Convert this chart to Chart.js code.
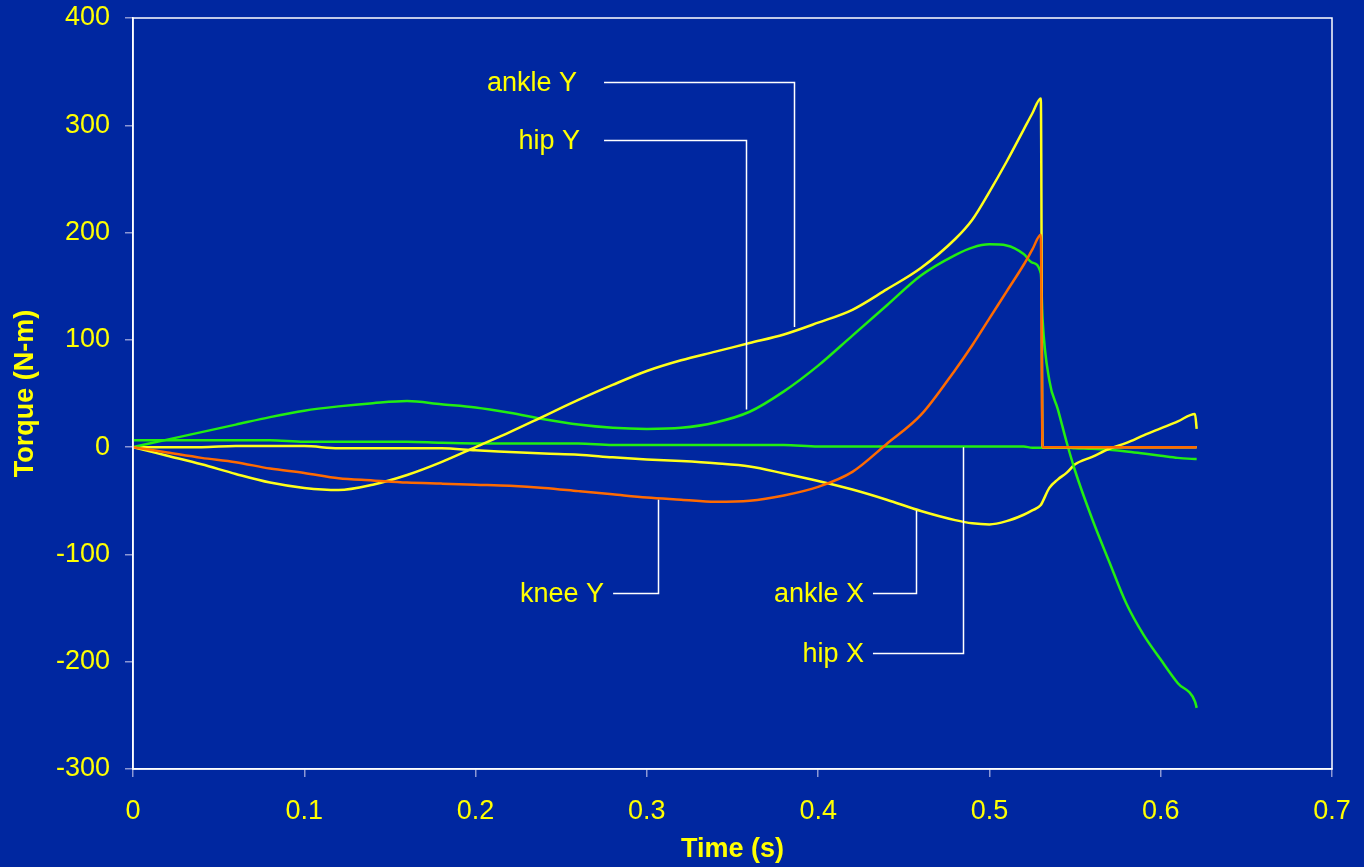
<!DOCTYPE html>
<html>
<head>
<meta charset="utf-8">
<script src="https://cdn.jsdelivr.net/npm/chart.js@4.4.1/dist/chart.umd.min.js"></script>
<style>
    html, body { margin: 0; padding: 0; background: #0027A0; }
    canvas { display: block; }
</style>
</head>
<body>
<canvas id="torqueChart" width="1364" height="867"></canvas>
<script>
// time samples (s), shared by every series
const times = [0, 0.02, 0.04, 0.06, 0.08, 0.1, 0.12, 0.14, 0.16, 0.18, 0.2, 0.22, 0.24, 0.26, 0.28, 0.3, 0.32, 0.34, 0.36, 0.38, 0.4, 0.42, 0.44, 0.46, 0.48,
    0.49, 0.5, 0.51, 0.52,
    0.525, 0.53, 0.531, 0.535, 0.54, 0.545, 0.55,
    0.56, 0.57, 0.58, 0.59, 0.6, 0.61, 0.62, 0.621];

// torques (N-m)
const kneeY = [0, -5, -10, -14, -20, -24, -29, -31, -33, -34, -35, -36, -38, -41, -44, -47, -49, -51, -50, -45, -37, -23, 3, 30, 72,
    95, 120, 145, 170,
    184, 198, 0, 0, 0, 0, 0,
    0, 0, 0, 0, 0, 0, 0, 0];
const ankleY = [0, -8, -16, -25, -33, -38, -40, -35, -26, -14, 0, 14, 29, 44, 58, 71, 81, 89, 97, 105, 116, 128, 147, 167, 194,
    212, 238, 266, 296,
    311, 325, 0, 0, 0, 0, 0,
    0, 0, 0, 0, 0, 0, 0, 0];
const hipY = [0, 7, 14, 21, 28, 34, 38, 41, 43, 40, 37, 32, 26, 21, 18, 17, 18, 23, 33, 52, 76, 104, 132, 160, 179,
    186, 189, 188, 180,
    172, 162, 120, 62, 35, 5, -22,
    -67, -107, -146, -175, -198, -220, -237, -243];
const ankleX = [0, 0, 0, 1, 1, 1, -1, -1, -1, -1, -3, -4.5, -6, -7, -9.5, -11.5, -13, -15, -18, -24.5, -31.5, -39.5, -49, -59.5, -68,
    -71, -72, -69, -63,
    -59, -54, -51, -38, -30, -24, -16,
    -9, -1.5, 4, 11, 17.5, 24, 31, 17];
const hipX = [6.5, 6.5, 6.5, 6.5, 6.5, 5, 5, 5, 5, 4, 3.5, 3.5, 3.5, 3.5, 2, 2, 2, 2, 2, 2, 0.5, 0.5, 0.5, 0.5, 0.5,
    0.5, 0.5, 0.5, 0.5,
    -0.5, -0.5, -0.5, -0.5, -0.5, -0.5, -1,
    -1.5, -2.5, -4, -6, -8, -10, -11, -11];

// callout labels: text right edge (t, torque), leader start t, elbow t, end torque
const calloutNames = ['ankle Y', 'hip Y', 'knee Y', 'ankle X', 'hip X'];
const calloutTextT = [0.2592, 0.2610, 0.2750, 0.4268, 0.4268];
const calloutTextV = [340, 286, -136, -136, -192];
const calloutStartT = [0.2750, 0.2750, 0.2803, 0.4320, 0.4320];
const calloutElbowT = [0.3859, 0.3579, 0.3065, 0.4571, 0.4846];
const calloutEndV = [112, 35, -49, -59, 0];

const xTicks = [0, 0.1, 0.2, 0.3, 0.4, 0.5, 0.6, 0.7];

const YELLOW = '#FFFF00';
const BG = '#0027A0';
const FONT = "'Liberation Sans', Arial, sans-serif";

function toPoints(values) {
    return times.map((t, i) => ({ x: t, y: values[i] }));
}

function series(label, values, color) {
    return {
        label: label,
        data: toPoints(values),
        borderColor: color,
        backgroundColor: color,
        borderWidth: 2.5,
        pointRadius: 0,
        fill: false,
        cubicInterpolationMode: 'monotone'
    };
}

// keep the plot box where the original has it
function noEdgePadding(scale) {
    scale.paddingTop = 0;
    scale.paddingBottom = 0;
    scale.paddingLeft = 0;
    scale.paddingRight = 0;
}

const backgroundPlugin = {
    id: 'background',
    beforeDraw(chart) {
        const c = chart.ctx;
        c.save();
        c.fillStyle = BG;
        c.fillRect(0, 0, chart.width, chart.height);
        c.restore();
    }
};

const calloutPlugin = {
    id: 'callouts',
    afterDraw(chart) {
        const c = chart.ctx;
        const xs = chart.scales.x;
        const ys = chart.scales.y;
        const a = chart.chartArea;

        c.save();
        // plot frame
        c.strokeStyle = '#ffffff';
        c.lineWidth = 1.5;
        c.strokeRect(a.left, a.top, a.right - a.left, a.bottom - a.top);

        c.font = '27px ' + FONT;
        c.textAlign = 'right';
        c.textBaseline = 'middle';
        for (let i = 0; i < calloutNames.length; i++) {
            const ty = ys.getPixelForValue(calloutTextV[i]);
            c.fillStyle = YELLOW;
            c.fillText(calloutNames[i], xs.getPixelForValue(calloutTextT[i]), ty + 1);

            const ex = Math.round(xs.getPixelForValue(calloutElbowT[i])) + 0.5;
            const ly = Math.round(ty) + 0.5;
            c.strokeStyle = '#ffffff';
            c.lineWidth = 1.5;
            c.beginPath();
            c.moveTo(xs.getPixelForValue(calloutStartT[i]), ly);
            c.lineTo(ex, ly);
            c.lineTo(ex, ys.getPixelForValue(calloutEndV[i]));
            c.stroke();
        }
        c.restore();
    }
};

const ctx = document.getElementById('torqueChart').getContext('2d');

new Chart(ctx, {
    type: 'line',
    data: {
        datasets: [
            series('knee Y', kneeY, '#FF6A00'),
            series('ankle Y', ankleY, '#FFFF1A'),
            series('hip Y', hipY, '#22EE11'),
            series('ankle X', ankleX, '#FFFF1A'),
            series('hip X', hipX, '#22EE11')
        ]
    },
    options: {
        responsive: false,
        animation: false,
        layout: { padding: { top: 18, right: 32, left: 0, bottom: 0 } },
        plugins: {
            legend: { display: false },
            tooltip: { enabled: false }
        },
        scales: {
            x: {
                type: 'linear',
                min: 0,
                max: 0.7,
                afterFit(scale) { scale.height = 98; noEdgePadding(scale); },
                afterBuildTicks(scale) { scale.ticks = xTicks.map(v => ({ value: v })); },
                ticks: {
                    color: YELLOW,
                    font: { family: FONT, size: 27 },
                    padding: 18,
                    maxRotation: 0,
                    callback: v => String(Math.round(v * 10) / 10)
                },
                grid: { drawOnChartArea: false, drawTicks: true, tickLength: 8, color: '#8c98d4', lineWidth: 1.5 },
                border: { display: true, color: '#ffffff', width: 1.5 },
                title: {
                    display: true,
                    text: 'Time (s)',
                    color: YELLOW,
                    font: { family: FONT, size: 27, weight: 'bold' },
                    padding: { top: 0, bottom: 1 }
                }
            },
            y: {
                type: 'linear',
                min: -300,
                max: 400,
                afterFit(scale) { scale.width = 133; noEdgePadding(scale); },
                ticks: {
                    stepSize: 100,
                    color: YELLOW,
                    font: { family: FONT, size: 27 },
                    padding: 15
                },
                grid: { drawOnChartArea: false, drawTicks: true, tickLength: 8, color: '#8c98d4', lineWidth: 1.5 },
                border: { display: true, color: '#ffffff', width: 1.5 },
                title: {
                    display: true,
                    text: 'Torque (N-m)',
                    color: YELLOW,
                    font: { family: FONT, size: 27, weight: 'bold' },
                    padding: { top: 9, bottom: 0 }
                }
            }
        }
    },
    plugins: [backgroundPlugin, calloutPlugin]
});
</script>
</body>
</html>
